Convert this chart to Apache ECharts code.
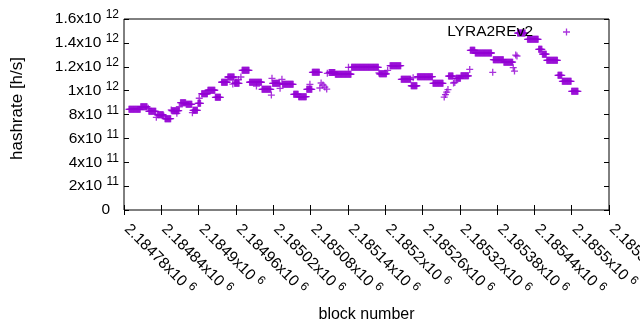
<!DOCTYPE html>
<html><head><meta charset="utf-8">
<script src="https://cdn.jsdelivr.net/npm/echarts@6/dist/echarts.min.js"></script>
<style>html,body{margin:0;padding:0;background:#fff}#c{width:640px;height:330px}</style>
</head><body><div id="c"></div>
<script>
// Runs of consecutive blocks sharing the same hashrate (h/s)
const runStart = [2184788,2184807,2184820,2184834,2184846,2184857,2184871,2184880,2184891,2184899,2184905,2184915,2184927,2184937,2184947,2184958,2184970,2184982,2185002,2185019,2185035,2185053,2185061,2185074,2185083,2185110,2185120,2185146,2185191,2185208,2185226,2185242,2185252,2185277,2185302,2185314,2185322,2185337,2185345,2185374,2185391,2185413,2185429,2185447,2185453,2185460,2185478,2185485,2185500];
const runEnd   = [2184806,2184817,2184831,2184843,2184855,2184868,2184879,2184889,2184898,2184903,2184914,2184926,2184935,2184946,2184957,2184965,2184981,2185001,2185016,2185030,2185052,2185060,2185073,2185082,2185094,2185119,2185145,2185189,2185202,2185225,2185241,2185251,2185276,2185293,2185309,2185321,2185334,2185344,2185371,2185390,2185405,2185425,2185446,2185452,2185459,2185477,2185484,2185499,2185510];
const runValue = [0.843e12,0.865e12,0.827e12,0.798e12,0.765e12,0.832e12,0.899e12,0.885e12,0.835e12,0.894e12,0.974e12,1.003e12,0.944e12,1.07e12,1.114e12,1.061e12,1.17e12,1.07e12,1.011e12,1.061e12,1.053e12,0.969e12,0.949e12,1.011e12,1.153e12,1.152e12,1.137e12,1.195e12,1.141e12,1.209e12,1.095e12,1.041e12,1.117e12,1.061e12,1.122e12,1.103e12,1.124e12,1.338e12,1.315e12,1.259e12,1.238e12,1.482e12,1.43e12,1.346e12,1.305e12,1.254e12,1.128e12,1.078e12,0.994e12];
// Isolated blocks
const singleBlock = [2184819,2184832,2184844,2184856,2184865,2184869,2184890,2184901,2184955,2184960,2184964,2184968,2184993,2185017,2185018,2185031,2185034,2185079,2185095,2185097,2185100,2185103,2185106,2185107,2185141,2185190,2185204,2185245,2185295,2185297,2185299,2185301,2185310,2185312,2185336,2185373,2185406,2185408,2185410,2185412];
const singleValue = [0.852e12,0.776e12,0.787e12,0.838e12,0.81e12,0.865e12,0.815e12,0.936e12,1.055e12,1.072e12,1.093e12,1.114e12,1.038e12,0.963e12,1.103e12,1.019e12,1.095e12,1.053e12,1.022e12,1.064e12,1.047e12,1.03e12,1.013e12,1.145e12,1.195e12,1.148e12,1.17e12,1.108e12,0.946e12,0.967e12,0.988e12,1.009e12,1.064e12,1.068e12,1.178e12,1.153e12,1.192e12,1.164e12,1.298e12,1.29e12];
const seriesName = 'LYRA2REv2';
const xTickMin = 2184780, xTickMax = 2185560, xTickStep = 60;
const yTickMin = 0, yTickMax = 1.6e12, yTickStep = 0.2e12;

const points = [];
for (let i = 0; i < runStart.length; i++) {
  for (let b = runStart[i]; b <= runEnd[i]; b++) points.push([b, runValue[i]]);
}
for (let i = 0; i < singleBlock.length; i++) points.push([singleBlock[i], singleValue[i]]);

const FONT = 'Liberation Sans';
const plus = 'path://M2.85,0h1.3v2.85h2.85v1.3h-2.85v2.85h-1.3v-2.85h-2.85v-1.3h2.85z';
const rich = {
  a: {fontFamily: FONT, fontSize: 15.5, color: '#000'},
  s: {fontFamily: FONT, fontSize: 12, color: '#000', padding: [0, 0, 8, 0]},
  z: {fontFamily: FONT, fontSize: 15.5, color: '#000', padding: [0, 9, 0, 0]}
};
const richX = {
  a: {fontFamily: FONT, fontSize: 15.5, color: '#000', padding: [0, 0, 0, 4]},
  s: {fontFamily: FONT, fontSize: 12, color: '#000', padding: [0, 0, 8, 0]}
};
function sci(v) {
  if (v === 0) return {m: '0', e: null};
  const e = Math.floor(Math.log10(Math.abs(v)) + 1e-9);
  const m = parseFloat((v / Math.pow(10, e)).toFixed(6));
  return {m: String(m), e: e};
}
function yFmt(v) {
  const s = sci(v);
  if (s.e === null) return '{z|0}';
  return '{a|' + s.m + 'x10 }{s|' + s.e + '}';
}
function xFmt(v) {
  const m = parseFloat((v / 1e6).toFixed(6));
  return '{a|' + m + 'x10 }{s|6}';
}
const chart = echarts.init(document.getElementById('c'), null, {renderer: 'canvas'});
const tick = {show: true, inside: true, length: 5, lineStyle: {color: '#000', width: 1}};
chart.setOption({
  animation: false,
  backgroundColor: '#fff',
  grid: {left: 124, right: 31, top: 19, bottom: 120, show: true, borderColor: '#000', borderWidth: 1, backgroundColor: 'transparent', containLabel: false, outerBoundsMode: 'none'},
  legend: {
    show: true, data: [seriesName], right: 65, top: 19, align: 'right',
    icon: plus, itemWidth: 7, itemHeight: 7, selectedMode: false,
    formatter: function (n) { return '{t|' + n + '}'; },
    textStyle: {rich: {t: {fontFamily: FONT, fontSize: 15.5, color: '#000', padding: [0, 25, 0, 0]}}}
  },
  xAxis: [{
    type: 'value', min: xTickMin, max: xTickMax, interval: xTickStep, position: 'bottom',
    name: 'block number', nameLocation: 'middle', nameGap: 97,
    nameTextStyle: {fontFamily: FONT, fontSize: 16, color: '#000'},
    axisLine: {show: false}, splitLine: {show: false}, axisTick: tick,
    axisLabel: {rotate: -45, margin: 14, formatter: xFmt, rich: richX, showMinLabel: true, showMaxLabel: true, hideOverlap: false}
  }, {
    type: 'value', min: xTickMin, max: xTickMax, interval: xTickStep, position: 'top',
    axisLine: {show: false}, splitLine: {show: false}, axisTick: tick, axisLabel: {show: false}
  }],
  yAxis: [{
    type: 'value', min: yTickMin, max: yTickMax, interval: yTickStep, position: 'left',
    name: 'hashrate [h/s]', nameLocation: 'middle', nameGap: 98,
    nameTextStyle: {fontFamily: FONT, fontSize: 17, color: '#000', padding: [0, 0, 0, 12]},
    axisLine: {show: false}, splitLine: {show: false}, axisTick: tick,
    axisLabel: {margin: 5, formatter: yFmt, rich: rich, showMinLabel: true, showMaxLabel: true}
  }, {
    type: 'value', min: yTickMin, max: yTickMax, interval: yTickStep, position: 'right',
    axisLine: {show: false}, splitLine: {show: false}, axisTick: tick, axisLabel: {show: false}
  }],
  series: [{
    name: seriesName, type: 'scatter', data: points, symbol: plus, symbolSize: 7,
    itemStyle: {color: '#9400d3'}, emphasis: {disabled: true}, silent: true, clip: false
  }]
});
</script></body></html>
